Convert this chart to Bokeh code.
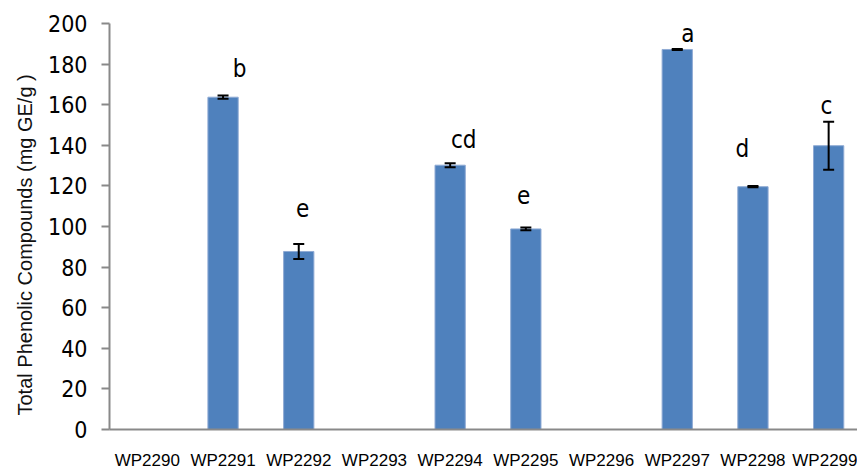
from bokeh.plotting import figure
from bokeh.models import (ColumnDataSource, Range1d, FixedTicker, Whisker, TeeHead, Title)
from bokeh.core.properties import value
from bokeh.embed import file_html
from bokeh.resources import INLINE

categories = ["WP2290", "WP2291", "WP2292", "WP2293", "WP2294",
              "WP2295", "WP2296", "WP2297", "WP2298", "WP2299"]
phenolics = [0, 163.7, 87.7, 0, 130.2, 98.8, 0, 187.2, 119.6, 139.8]
errors = [0, 0.8, 3.7, 0, 1.0, 0.7, 0, 0.3, 0.3, 11.8]
letters = ["", "b", "e", "", "cd", "e", "", "a", "d", "c"]
y_ticks = [0, 20, 40, 60, 80, 100, 120, 140, 160, 180, 200]

# annotation placement for significance letters (category index offset, data height)
letter_dx = [0, 0.22, 0.05, 0, 0.18, -0.03, 0, 0.14, -0.14, -0.03]
letter_y = [0, 177.8, 108.9, 0, 142.4, 115.3, 0, 194.6, 138.4, 159.6]

xs = [i + 0.5 for i in range(len(categories))]
present = [i for i, v in enumerate(phenolics) if v > 0]

bar_src = ColumnDataSource(dict(
    x=[xs[i] for i in present],
    top=[phenolics[i] for i in present],
    upper=[phenolics[i] + errors[i] for i in present],
    lower=[phenolics[i] - errors[i] for i in present],
))
lab_src = ColumnDataSource(dict(
    x=[xs[i] + letter_dx[i] for i in present],
    y=[letter_y[i] for i in present],
    t=[letters[i] for i in present],
))

p = figure(width=857, height=472, output_backend="svg", toolbar_location=None,
           x_range=Range1d(0, 748 / 75.7), y_range=Range1d(0, 200),
           min_border_left=109, min_border_right=0, min_border_top=23,
           min_border_bottom=43)
p.outline_line_color = None
p.xgrid.visible = False
p.ygrid.visible = False
p.background_fill_color = "white"

p.vbar(x="x", top="top", width=0.4, bottom=0, source=bar_src,
       fill_color="#4F81BD", line_color="#8FAAD4", line_width=1)

w = Whisker(base="x", upper="upper", lower="lower", source=bar_src,
            line_color="black", line_width=2, level="overlay",
            upper_head=TeeHead(size=11, line_color="black", line_width=2),
            lower_head=TeeHead(size=11, line_color="black", line_width=2))
p.add_layout(w)

p.text(x="x", y="y", text="t", source=lab_src, text_align="center",
       text_baseline="middle", text_font=value("DejaVu Sans Condensed"),
       text_font_size="24px", text_color="black")

axis_color = "#898989"
yax = p.yaxis[0]
yax.ticker = FixedTicker(ticks=y_ticks)
yax.axis_line_color = axis_color
yax.axis_line_width = 2
yax.major_tick_line_color = axis_color
yax.major_tick_line_width = 2
yax.major_tick_out = 8
yax.major_tick_in = 0
yax.minor_tick_line_color = None
yax.major_label_text_font = "DejaVu Sans Condensed"
yax.major_label_text_font_size = "23px"
yax.major_label_text_color = "black"
yax.major_label_standoff = 14

xax = p.xaxis[0]
xax.ticker = FixedTicker(ticks=xs)
xax.major_label_overrides = {x: c for x, c in zip(xs, categories)}
xax.axis_line_color = axis_color
xax.axis_line_width = 2
xax.major_tick_line_color = None
xax.major_tick_out = 0
xax.major_tick_in = 0
xax.minor_tick_line_color = None
xax.major_label_text_font = "Liberation Sans"
xax.major_label_text_font_size = "17px"
xax.major_label_text_color = "black"
xax.major_label_standoff = 21

ytitle = Title(text="Total  Phenolic Compounds (mg GE/g )", align="left",
               offset=14, standoff=20, text_font="Liberation Sans",
               text_font_size="20px", text_font_style="normal",
               text_color="#111111")
p.add_layout(ytitle, "left")

open("out.html", "w").write(file_html(p, INLINE))
